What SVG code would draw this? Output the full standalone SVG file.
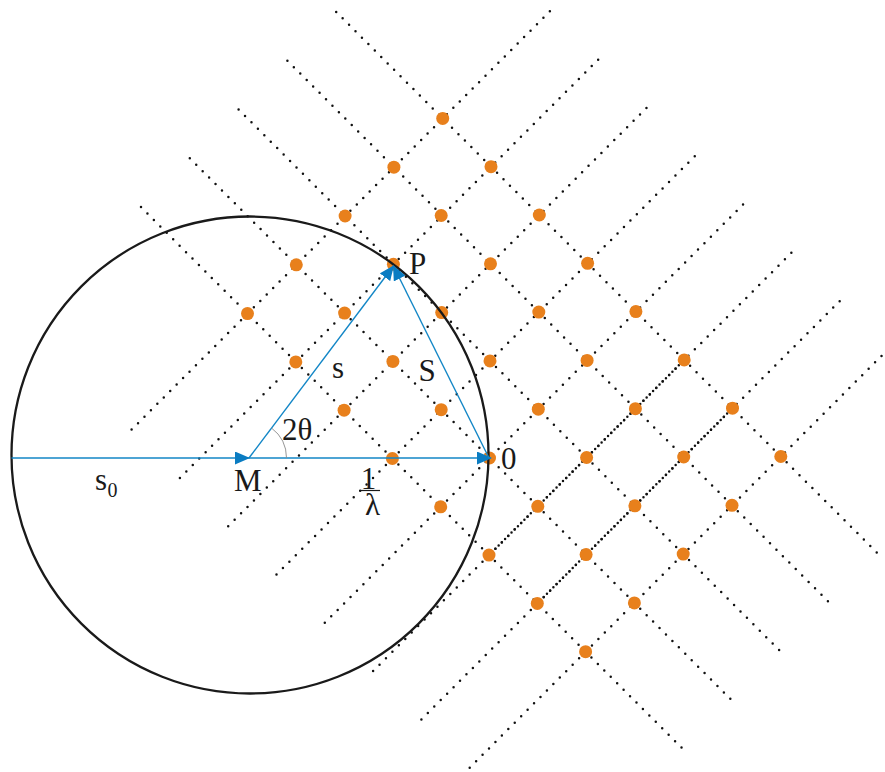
<svg xmlns="http://www.w3.org/2000/svg" width="885" height="772" viewBox="0 0 885 772">
<style>
.dl{fill:none;stroke:#111111;stroke-width:2.5;stroke-linecap:round;stroke-dasharray:0 9.1}
.dd{fill:none;stroke:#111111;stroke-width:2.5;stroke-linecap:round;stroke-dasharray:0 4.55}
.pt{fill:#e8801c}
.vec{fill:none;stroke:#1286c6;stroke-width:1.4}
.lbl{font-family:"Liberation Serif","Times New Roman",serif;font-size:31px;fill:#1a1a1a}
</style>
<defs>
<marker id="arr" markerUnits="userSpaceOnUse" markerWidth="16" markerHeight="13" refX="14" refY="6.5" orient="auto">
<path d="M0,0 L15,6.5 L0,13 z" fill="#0a7cc2"/>
</marker>
</defs>
<rect width="885" height="772" fill="#ffffff"/>
<g id="lattice-lines">
<line class="dl" x1="131.6" y1="429.6" x2="553.1" y2="8.1"/>
<line class="dl" x1="179.9" y1="477.9" x2="601.4" y2="56.4"/>
<line class="dl" x1="228.2" y1="526.2" x2="649.7" y2="104.7"/>
<line class="dl" x1="276.5" y1="574.5" x2="698.0" y2="153.0"/>
<line class="dl" x1="324.8" y1="622.8" x2="746.3" y2="201.3"/>
<line class="dl" x1="373.1" y1="671.1" x2="794.6" y2="249.6"/>
<line class="dl" x1="421.4" y1="719.4" x2="842.9" y2="297.9"/>
<line class="dl" x1="469.7" y1="767.7" x2="891.2" y2="346.2"/>
<line class="dl" x1="141.0" y1="207.1" x2="687.0" y2="753.1"/>
<line class="dl" x1="189.8" y1="158.3" x2="735.8" y2="704.3"/>
<line class="dl" x1="238.6" y1="109.5" x2="784.6" y2="655.5"/>
<line class="dl" x1="287.4" y1="60.7" x2="833.4" y2="606.7"/>
<line class="dl" x1="336.2" y1="11.9" x2="882.2" y2="557.9"/>
<line class="dd" x1="489.0" y1="555.1" x2="684.2" y2="359.9"/>
<line class="dd" x1="537.3" y1="603.4" x2="732.5" y2="408.2"/>
</g>
<g id="lattice-points">
<circle class="pt" r="6.5" cx="247.5" cy="313.6"/><circle class="pt" r="6.5" cx="296.3" cy="264.8"/><circle class="pt" r="6.5" cx="345.1" cy="216.0"/><circle class="pt" r="6.5" cx="393.9" cy="167.2"/><circle class="pt" r="6.5" cx="442.7" cy="118.4"/>
<circle class="pt" r="6.5" cx="295.8" cy="361.9"/><circle class="pt" r="6.5" cx="344.6" cy="313.1"/><circle class="pt" r="6.5" cx="441.2" cy="215.5"/><circle class="pt" r="6.5" cx="491.0" cy="166.7"/>
<circle class="pt" r="6.5" cx="344.1" cy="410.2"/><circle class="pt" r="6.5" cx="392.9" cy="361.4"/><circle class="pt" r="6.5" cx="441.7" cy="312.6"/><circle class="pt" r="6.5" cx="490.5" cy="263.8"/><circle class="pt" r="6.5" cx="539.3" cy="215.0"/>
<circle class="pt" r="6.5" cx="392.4" cy="458.5"/><circle class="pt" r="6.5" cx="441.2" cy="409.7"/><circle class="pt" r="6.5" cx="490.0" cy="360.9"/><circle class="pt" r="6.5" cx="538.8" cy="312.1"/><circle class="pt" r="6.5" cx="587.6" cy="263.3"/>
<circle class="pt" r="6.5" cx="440.7" cy="506.8"/><circle class="pt" r="6.5" cx="538.3" cy="409.2"/><circle class="pt" r="6.5" cx="587.1" cy="360.4"/><circle class="pt" r="6.5" cx="635.9" cy="311.6"/>
<circle class="pt" r="6.5" cx="489.0" cy="555.1"/><circle class="pt" r="6.5" cx="537.8" cy="506.3"/><circle class="pt" r="6.5" cx="586.6" cy="457.5"/><circle class="pt" r="6.5" cx="635.4" cy="408.7"/><circle class="pt" r="6.5" cx="684.2" cy="359.9"/>
<circle class="pt" r="6.5" cx="537.3" cy="603.4"/><circle class="pt" r="6.5" cx="586.1" cy="554.6"/><circle class="pt" r="6.5" cx="634.9" cy="505.8"/><circle class="pt" r="6.5" cx="683.7" cy="457.0"/><circle class="pt" r="6.5" cx="732.5" cy="408.2"/>
<circle class="pt" r="6.5" cx="585.6" cy="651.7"/><circle class="pt" r="6.5" cx="634.4" cy="602.9"/><circle class="pt" r="6.5" cx="683.2" cy="554.1"/><circle class="pt" r="6.5" cx="732.0" cy="505.3"/><circle class="pt" r="6.5" cx="780.8" cy="456.5"/>
</g>
<g id="node-P"><circle class="pt" r="6.5" cx="393.4" cy="264.3"/></g>
<g id="node-O"><circle class="pt" r="6.5" cx="489.5" cy="458.0"/></g>
<g id="ewald-circle"><circle cx="250" cy="455" r="238.5" fill="none" stroke="#1a1a1a" stroke-width="2.3"/></g>
<g id="connectors">
<line class="vec" x1="11.5" y1="458" x2="249" y2="458" marker-end="url(#arr)"/>
<line class="vec" x1="249" y1="458" x2="491" y2="458" marker-end="url(#arr)"/>
<line class="vec" x1="249" y1="458" x2="393.4" y2="266" marker-end="url(#arr)"/>
<line class="vec" x1="489" y1="458" x2="393.4" y2="266" marker-end="url(#arr)"/>
<path d="M286.5,458 A37.5,37.5 0 0 0 271.5,428" fill="none" stroke="#8a8a8a" stroke-width="0.9"/>
</g>
<g id="labels">
<text class="lbl" x="409" y="273.5">P</text>
<text class="lbl" x="234" y="490.5">M</text>
<text class="lbl" x="501" y="468.5">0</text>
<text class="lbl" x="332" y="377.5">s</text>
<text class="lbl" x="418.5" y="380.5">S</text>
<text class="lbl" x="282" y="439.5">2θ</text>
<text class="lbl" x="368.5" y="488.5" text-anchor="middle">1</text>
<line x1="360.5" y1="490.5" x2="380" y2="490.5" stroke="#1a1a1a" stroke-width="1.2"/>
<text class="lbl" x="372.5" y="515" text-anchor="middle">λ</text>
<text class="lbl" x="95" y="490">s</text>
<text class="lbl" x="107.5" y="496.5" style="font-size:20px">0</text>
</g>
</svg>
